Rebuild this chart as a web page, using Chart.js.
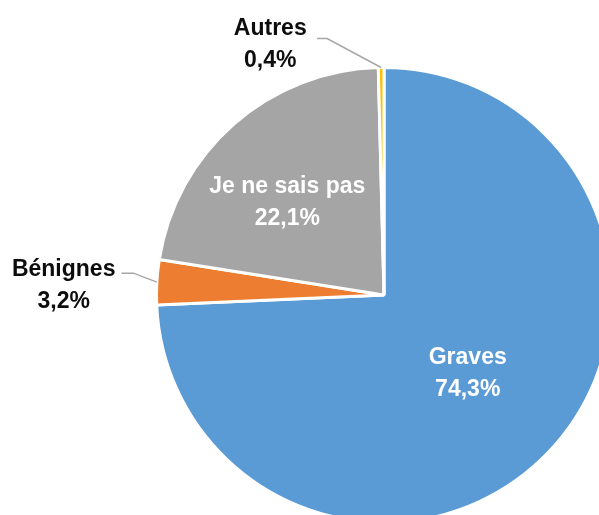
<!DOCTYPE html>
<html>
<head>
<meta charset="utf-8">
<script src="https://cdn.jsdelivr.net/npm/chart.js@4"></script>
<style>
  html, body { margin: 0; padding: 0; background: #fff; overflow: hidden; }
  #wrap { width: 599px; height: 515px; overflow: hidden; position: relative; }
  canvas { position: absolute; left: 0; top: 0; }
</style>
</head>
<body>
<div id="wrap"><canvas id="camembert" width="768" height="590"></canvas></div>
<script>
var categories = ['Graves', 'Bénignes', 'Je ne sais pas', 'Autres'];
var values = [74.3, 3.2, 22.1, 0.4];
var valueLabels = ['74,3%', '3,2%', '22,1%', '0,4%'];
var colors = ['#5B9BD5', '#ED7D31', '#A5A5A5', '#FFC000'];

// where each label sits, relative to the pie centre (in radius units)
var labelSpots = [
    { dx: 0.368, dy: 0.346, color: '#ffffff', leader: null },
    { dx: -1.408, dy: -0.04, color: '#0d0d0d', leader: { x: -1.154, y: -0.096, len: 12 } },
    { dx: -0.425, dy: -0.405, color: '#ffffff', leader: null },
    { dx: -0.5, dy: -1.10, color: '#0d0d0d', leader: { x: -0.294, y: -1.127, len: 10 } }
];

var labelPlugin = {
    id: 'pieLabels',
    afterDraw: function (chart) {
        var ctx = chart.ctx;
        var meta = chart.getDatasetMeta(0);
        ctx.save();
        ctx.font = 'bold 23px "Liberation Sans", Arial, sans-serif';
        ctx.textAlign = 'center';
        ctx.textBaseline = 'middle';
        meta.data.forEach(function (arc, i) {
            var r = arc.outerRadius;
            var spot = labelSpots[i];
            var tx = arc.x + spot.dx * r;
            var ty = arc.y + spot.dy * r;
            if (spot.leader) {
                var mid = (arc.startAngle + arc.endAngle) / 2;
                var ex = arc.x + Math.cos(mid) * r;
                var ey = arc.y + Math.sin(mid) * r;
                var sx = arc.x + spot.leader.x * r;
                var sy = arc.y + spot.leader.y * r;
                ctx.strokeStyle = '#a6a6a6';
                ctx.lineWidth = 1.5;
                ctx.beginPath();
                ctx.moveTo(sx, sy);
                ctx.lineTo(sx + spot.leader.len, sy);
                ctx.lineTo(ex, ey);
                ctx.stroke();
            }
            ctx.fillStyle = spot.color;
            ctx.fillText(categories[i], tx, ty - 16);
            ctx.fillText(valueLabels[i], tx, ty + 16);
        });
        ctx.restore();
    }
};

var ctx = document.getElementById('camembert').getContext('2d');
var chart = new Chart(ctx, {
    type: 'pie',
    data: {
        labels: categories,
        datasets: [{
            data: values,
            backgroundColor: colors,
            borderColor: '#ffffff',
            borderWidth: 3
        }]
    },
    options: {
        responsive: false,
        animation: false,
        layout: { padding: { top: 66, bottom: 66, left: 0, right: 0 } },
        plugins: {
            legend: { display: false },
            tooltip: { enabled: false }
        }
    },
    plugins: [labelPlugin]
});
</script>
</body>
</html>
